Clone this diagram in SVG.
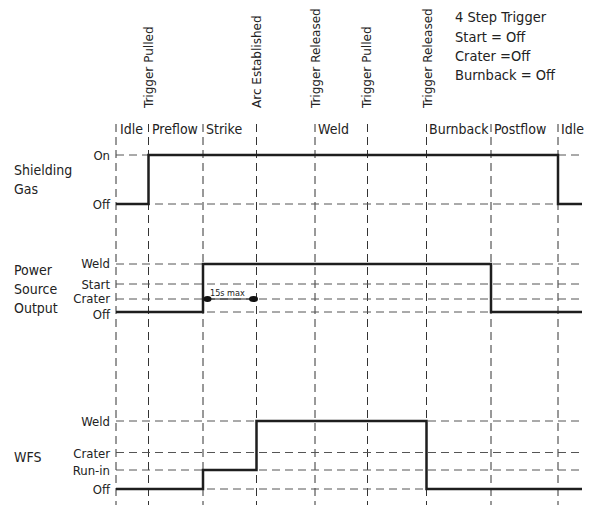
<svg xmlns="http://www.w3.org/2000/svg" width="594" height="507" viewBox="0 0 594 507">
<style>
text{font-family:"DejaVu Sans Condensed","Liberation Sans Narrow","Liberation Sans",sans-serif;fill:#222;}
.lbl{font-size:14px;}
.leg{font-size:14.5px;}
.lvl{font-size:13px;text-anchor:end;}
.ph{font-size:14px;}
.ev{font-size:13px;}
.vg{stroke:#333;stroke-width:1;stroke-dasharray:8 5;fill:none;}
.hg{stroke:#555;stroke-width:1;stroke-dasharray:8 5;fill:none;}
.sig{stroke:#1e1e1e;stroke-width:2.5;fill:none;stroke-linejoin:miter;}
</style>
<g id="events">
<text class="ev" transform="translate(153,108) rotate(-90) scale(1.03,1)">Trigger Pulled</text>
<text class="ev" transform="translate(261,108) rotate(-90) scale(1.03,1)">Arc Established</text>
<text class="ev" transform="translate(320,108) rotate(-90) scale(1.03,1)">Trigger Released</text>
<text class="ev" transform="translate(371,108) rotate(-90) scale(1.03,1)">Trigger Pulled</text>
<text class="ev" transform="translate(432,108) rotate(-90) scale(1.03,1)">Trigger Released</text>
</g>
<g id="legend">
<text class="leg" x="455" y="22">4 Step Trigger</text>
<text class="leg" x="455" y="42">Start = Off</text>
<text class="leg" x="455" y="61">Crater =Off</text>
<text class="leg" x="455" y="80">Burnback = Off</text>
</g>
<g id="phases">
<text class="ph" x="120" y="134">Idle</text>
<text class="ph" x="152" y="134">Preflow</text>
<text class="ph" x="206" y="134">Strike</text>
<text class="ph" x="318" y="134">Weld</text>
<text class="ph" x="429" y="134">Burnback</text>
<text class="ph" x="494" y="134">Postflow</text>
<text class="ph" x="561" y="134">Idle</text>
</g>
<g id="grid">
<path class="vg" d="M116,124V505M148.5,124V505M203,124V505M256.5,124V505M315,124V505M367.5,124V505M426.5,124V505M491,124V505M558,124V505"/>
<path class="hg" d="M116,155H582M116,204H582M116,264H582M116,284H582M116,299H582M116,312H582M116,421H582M116,452.5H582M116,470H582M116,489H582"/>
</g>
<g id="shielding-gas">
<text class="lbl" x="14" y="175">Shielding</text>
<text class="lbl" x="14" y="194">Gas</text>
<text class="lvl" x="110" y="160">On</text>
<text class="lvl" x="110" y="209">Off</text>
<path class="sig" d="M116,204H148.5V155H558V204H582"/>
</g>
<g id="power-source-output">
<text class="lbl" x="14" y="275">Power</text>
<text class="lbl" x="14" y="294">Source</text>
<text class="lbl" x="14" y="313">Output</text>
<text class="lvl" x="110" y="268">Weld</text>
<text class="lvl" x="110" y="288.5">Start</text>
<text class="lvl" x="110" y="303">Crater</text>
<text class="lvl" x="110" y="318.5">Off</text>
<path class="sig" d="M116,312H203V264H491V312H582"/>
<path d="M207,299H254" stroke="#222" stroke-width="1"/>
<ellipse cx="207.5" cy="299" rx="4" ry="3" fill="#111"/>
<ellipse cx="253.5" cy="299" rx="4.5" ry="3" fill="#111"/>
<text x="210" y="296" style="font-size:9px">15s max</text>
</g>
<g id="wfs">
<text class="lbl" x="14" y="462">WFS</text>
<text class="lvl" x="110" y="426">Weld</text>
<text class="lvl" x="110" y="458">Crater</text>
<text class="lvl" x="110" y="475">Run-in</text>
<text class="lvl" x="110" y="494">Off</text>
<path class="sig" d="M116,489H203V470H256.5V421H426.5V489H582"/>
</g>
</svg>
